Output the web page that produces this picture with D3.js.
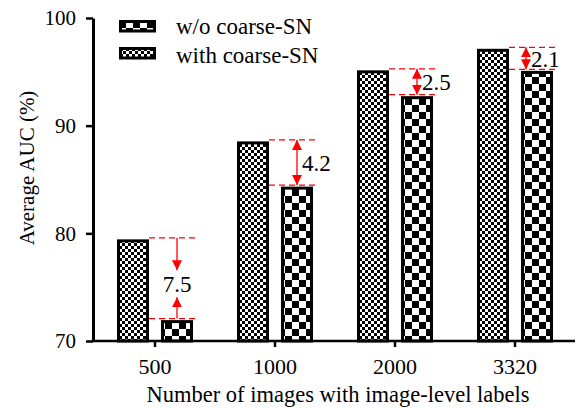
<!DOCTYPE html>
<html><head><meta charset="utf-8">
<script src="https://cdn.jsdelivr.net/npm/d3@7"></script>
</head><body style="margin:0">
<script>
const categories = ["500", "1000", "2000", "3320"];
const withSN = [79.3, 88.4, 95.0, 97.0];
const withoutSN = [71.8, 84.2, 92.6, 94.95];
const diffLabels = ["7.5", "4.2", "2.5", "2.1"];
const yTicks = [70, 80, 90, 100];
const seriesNames = ["w/o coarse-SN", "with coarse-SN"];

const W = 577, H = 408;
const font = '"Liberation Serif"';
const svg = d3.select("body").append("svg").attr("width", W).attr("height", H)
  .style("display", "block").style("font-family", font);

const defs = svg.append("defs");
const pf = defs.append("pattern").attr("id", "fine").attr("patternUnits", "userSpaceOnUse")
  .attr("width", 6).attr("height", 6);
pf.append("rect").attr("width", 6).attr("height", 6).attr("fill", "#fff");
pf.append("rect").attr("width", 3).attr("height", 3).attr("fill", "#000");
pf.append("rect").attr("x", 3).attr("y", 3).attr("width", 3).attr("height", 3).attr("fill", "#000");
const pc = defs.append("pattern").attr("id", "coarse").attr("patternUnits", "userSpaceOnUse")
  .attr("width", 14).attr("height", 14);
pc.append("rect").attr("width", 14).attr("height", 14).attr("fill", "#fff");
pc.append("rect").attr("width", 7).attr("height", 7).attr("fill", "#000");
pc.append("rect").attr("x", 7).attr("y", 7).attr("width", 7).attr("height", 7).attr("fill", "#000");
defs.append("marker").attr("id", "ah").attr("viewBox", "0 0 10 10").attr("refX", 10).attr("refY", 5)
  .attr("markerWidth", 10).attr("markerHeight", 10).attr("markerUnits", "userSpaceOnUse")
  .attr("orient", "auto-start-reverse")
  .append("path").attr("d", "M0,0 L10,5 L0,10 Z").attr("fill", "#f00");

const x0 = d3.scaleBand().domain(categories).range([95, 575]);
const x1 = d3.scaleBand().domain(["with", "wo"]).range([23.5, 96.5]).paddingInner(0.341);
const y = d3.scaleLinear().domain([70, 100]).range([341, 18]);

// bars
const groups = svg.append("g").selectAll("g").data(categories).join("g")
  .attr("transform", d => `translate(${x0(d)},0)`);
groups.append("rect").attr("x", x1("with")).attr("width", x1.bandwidth())
  .attr("y", (d, i) => y(withSN[i])).attr("height", (d, i) => y(70) - y(withSN[i]))
  .attr("fill", "url(#fine)").attr("stroke", "#000").attr("stroke-width", 3);
groups.append("rect").attr("x", x1("wo")).attr("width", x1.bandwidth())
  .attr("y", (d, i) => y(withoutSN[i])).attr("height", (d, i) => y(70) - y(withoutSN[i]))
  .attr("fill", "url(#coarse)").attr("stroke", "#000").attr("stroke-width", 3);

// annotations
const red = "#f00";
categories.forEach((c, i) => {
  const g = svg.append("g");
  const xl = x0(c) + x1("with") + x1.bandwidth() + 1.5;
  const xr = x0(c) + x1("wo") + x1.bandwidth() + 3.5;
  const yt = y(withSN[i]) - 3;
  const yb = y(withoutSN[i]) - 3;
  [yt, yb].forEach(yy => g.append("line").attr("x1", xl).attr("x2", xr).attr("y1", yy).attr("y2", yy)
    .attr("stroke", red).attr("stroke-width", 1.3).attr("stroke-dasharray", "6,4"));
  let ax = x0(c) + x1("wo") + x1.bandwidth() / 2;
  if (i === 3) ax -= 11;
  if (i === 0) {
    const mid = (yt + yb) / 2;
    g.append("line").attr("x1", ax).attr("x2", ax).attr("y1", yt).attr("y2", mid - 8)
      .attr("stroke", red).attr("stroke-width", 1.3).attr("marker-end", "url(#ah)");
    g.append("line").attr("x1", ax).attr("x2", ax).attr("y1", yb).attr("y2", mid + 19)
      .attr("stroke", red).attr("stroke-width", 1.3).attr("marker-end", "url(#ah)");
    g.append("text").attr("x", ax).attr("y", mid + 6).attr("text-anchor", "middle")
      .attr("dominant-baseline", "central").style("font-family", font).style("font-size", "23px")
      .text(diffLabels[i]);
  } else {
    g.append("line").attr("x1", ax).attr("x2", ax).attr("y1", yt).attr("y2", yb)
      .attr("stroke", red).attr("stroke-width", 1.3)
      .attr("marker-start", "url(#ah)").attr("marker-end", "url(#ah)");
    g.append("text").attr("x", ax + 5).attr("y", (yt + yb) / 2 + 1)
      .attr("dominant-baseline", "central").style("font-family", font).style("font-size", "23px")
      .text(diffLabels[i]);
  }
});

// axes
const yAxis = svg.append("g").attr("transform", "translate(93,0)")
  .call(d3.axisLeft(y).tickValues(yTicks).tickSize(7).tickPadding(10).tickSizeOuter(0));
yAxis.attr("font-family", null);
yAxis.select(".domain").attr("stroke-width", 3);
yAxis.selectAll(".tick line").attr("stroke-width", 2.5);
yAxis.selectAll("text").style("font-family", font).style("font-size", "21px").attr("fill", "#000");

const xAxis = svg.append("g").attr("transform", "translate(0,341)")
  .call(d3.axisBottom(x0).tickSize(6).tickPadding(11).tickSizeOuter(0));
xAxis.attr("font-family", null);
xAxis.select(".domain").attr("d", "M91.5,0H575").attr("stroke-width", 2.5);
xAxis.selectAll(".tick line").attr("stroke-width", 2.5);
xAxis.selectAll("text").style("font-family", font).style("font-size", "22px").attr("fill", "#000");

svg.append("text").attr("x", 338).attr("y", 402).attr("text-anchor", "middle")
  .style("font-family", font).style("font-size", "22.5px").text("Number of images with image-level labels");
svg.append("text").attr("transform", "translate(34,168) rotate(-90)").attr("text-anchor", "middle")
  .style("font-family", font).style("font-size", "21px").text("Average AUC (%)");

// legend
const leg = svg.append("g");
const legFill = ["url(#coarse)", "url(#fine)"];
seriesNames.forEach((n, i) => {
  const yy = 21.5 + i * 27;
  leg.append("rect").attr("x", 120.5).attr("y", yy).attr("width", 34).attr("height", 9.5)
    .attr("fill", legFill[i]).attr("stroke", "#000").attr("stroke-width", 3);
  leg.append("text").attr("x", 176).attr("y", 34 + i * 29).style("font-family", font)
    .style("font-size", "23px").text(n);
});
</script>
</body></html>
